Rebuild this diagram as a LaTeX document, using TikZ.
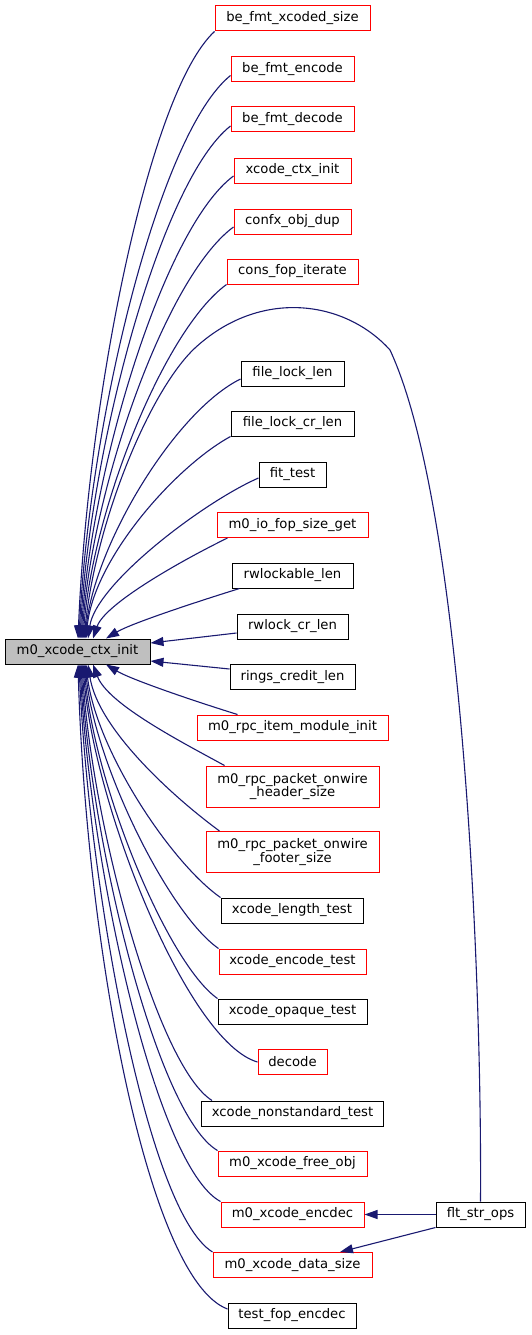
\documentclass[tikz,border=0pt]{standalone}
\usepackage{fontspec}
\setmainfont{DejaVu Sans}
\usetikzlibrary{arrows.meta,calc}
\definecolor{edgeblue}{HTML}{191970}
\definecolor{mainfill}{HTML}{BFBFBF}
\begin{document}
\begin{tikzpicture}[x=1pt,y=-1pt,
  box/.style={draw=black,line width=1pt,fill=white,minimum height=25pt,inner xsep=3pt,inner ysep=2pt,font=\fontsize{13.2}{13.3}\selectfont,align=center},
  redbox/.style={box,draw=red},
  tall/.style={minimum height=41pt},
  e/.style={draw=edgeblue,line width=1.1pt,-{Triangle[length=13pt,width=9pt]}}
]
\useasboundingbox (0,0) rectangle (531,1335);
% main node
\node[box,fill=mainfill,minimum width=145pt] (main) at (77.5,651.5) {m0\_xcode\_ctx\_init};
% callers
\node[redbox,minimum width=155pt] (fmtx) at (292.5,18.5) {be\_fmt\_xcoded\_size};
\node[redbox,minimum width=123pt] (fmte) at (292.5,69.5) {be\_fmt\_encode};
\node[redbox,minimum width=123pt] (fmtd) at (292.5,119.5) {be\_fmt\_decode};
\node[redbox,minimum width=117pt] (xci) at (292.5,170.5) {xcode\_ctx\_init};
\node[redbox,minimum width=117pt] (confx) at (292.5,221.5) {confx\_obj\_dup};
\node[redbox,minimum width=131pt] (cons) at (292.5,271.5) {cons\_fop\_iterate};
\node[box,minimum width=103pt] (flock) at (292.5,373.5) {file\_lock\_len};
\node[box,minimum width=123pt] (flockcr) at (292.5,423.5) {file\_lock\_cr\_len};
\node[box,minimum width=67pt] (fit) at (292.5,474.5) {fit\_test};
\node[redbox,minimum width=151pt] (iofop) at (292.5,525) {m0\_io\_fop\_size\_get};
\node[box,minimum width=121pt] (rwl) at (292.5,575.5) {rwlockable\_len};
\node[box,minimum width=111pt] (rwcr) at (292.5,626.5) {rwlock\_cr\_len};
\node[box,minimum width=125pt] (rings) at (292.5,677) {rings\_credit\_len};
\node[redbox,minimum width=191pt] (item) at (292.5,727.5) {m0\_rpc\_item\_module\_init};
\node[redbox,tall,minimum width=173pt] (header) at (292.5,786.5) {m0\_rpc\_packet\_onwire\\\_header\_size};
\node[redbox,tall,minimum width=173pt] (footer) at (292.5,852) {m0\_rpc\_packet\_onwire\\\_footer\_size};
\node[box,minimum width=142pt] (length) at (292,910.5) {xcode\_length\_test};
\node[redbox,minimum width=147pt] (enct) at (292.5,961.5) {xcode\_encode\_test};
\node[box,minimum width=149pt] (opq) at (292.5,1011.5) {xcode\_opaque\_test};
\node[redbox,minimum width=69pt] (dec) at (292.5,1062) {decode};
\node[box,minimum width=182pt] (nonstd) at (292.5,1113.5) {xcode\_nonstandard\_test};
\node[redbox,minimum width=149pt] (free) at (292.5,1163.5) {m0\_xcode\_free\_obj};
\node[redbox,minimum width=143pt] (encdec) at (292.5,1214.5) {m0\_xcode\_encdec};
\node[redbox,minimum width=159pt] (dsize) at (292.5,1265) {m0\_xcode\_data\_size};
\node[box,minimum width=128pt] (tfop) at (292,1315.5) {test\_fop\_encdec};
\node[box,minimum width=89pt] (flt) at (480.5,1214.5) {flt\_str\_ops};
% upper edges
\draw[e] (fmtx.south west) .. controls +(-66,61) and +(10,-240) .. ($(main.north)+(0.5,0)$);
\draw[e] ($(fmte.west)+(0,6)$) .. controls +(-72,58) and +(10,-215) .. ($(main.north)+(1.5,0)$);
\draw[e] ($(fmtd.west)+(0,6.5)$) .. controls +(-70,55) and +(10,-190) .. ($(main.north)+(2.5,0)$);
\draw[e] ($(xci.west)+(0,5.5)$) .. controls +(-70,52) and +(10,-168) .. ($(main.north)+(3.5,0)$);
\draw[e] ($(confx.west)+(0,5.5)$) .. controls +(-68,50) and +(10,-150) .. ($(main.north)+(4.5,0)$);
\draw[e] (cons.south west) .. controls +(-62,45) and +(10,-130) .. ($(main.north)+(5.5,0)$);
\draw[e] ($(flock.west)+(0,5.5)$) .. controls +(-65,32) and +(10,-95) .. ($(main.north)+(7.5,0)$);
\draw[e] (flockcr.south west) .. controls +(-55,30) and +(8,-80) .. ($(main.north)+(8.5,0)$);
\draw[e] ($(fit.west)+(0,3.5)$) .. controls +(-55,24) and +(8,-55) .. ($(main.north)+(10.5,0)$);
\draw[e] ($(iofop.south west)+(11,0)$) .. controls +(-45,22) and +(12,-35) .. ($(main.north)+(15.5,0)$);
\draw[e] ($(rwl.south west)+(8,0)$) .. controls +(-45,14) and +(25,-15) .. ($(main.north)+(28.5,0)$);
% side edges
\draw[e] ($(rwcr.west)+(0,6.5)$) -- ($(main.east)+(0,-8.5)$);
\draw[e] ($(rings.west)+(0,-8)$) -- ($(main.east)+(0,9.5)$);
% lower edges
\draw[e] ($(item.north west)+(41,0)$) .. controls +(-45,-14) and +(25,15) .. ($(main.south)+(28.5,0)$);
\draw[e] ($(header.north west)+(19,0)$) .. controls +(-40,-22) and +(15,40) .. ($(main.south)+(15.5,0)$);
\draw[e] ($(footer.north west)+(14,0)$) .. controls +(-45,-33) and +(10,65) .. ($(main.south)+(10.5,0)$);
\draw[e] (length.north west) .. controls +(-50,-35) and +(10,85) .. ($(main.south)+(8.5,0)$);
\draw[e] (enct.north west) .. controls +(-50,-35) and +(10,100) .. ($(main.south)+(7.5,0)$);
\draw[e] (opq.north west) .. controls +(-50,-35) and +(10,120) .. ($(main.south)+(6.5,0)$);
\draw[e] (dec.west) .. controls +(-70,-20) and +(10,140) .. ($(main.south)+(5.5,0)$);
\draw[e] ($(nonstd.north west)+(11,0)$) .. controls +(-55,-35) and +(10,160) .. ($(main.south)+(4.5,0)$);
\draw[e] (free.north west) .. controls +(-60,-35) and +(10,180) .. ($(main.south)+(3.5,0)$);
\draw[e] (encdec.north west) .. controls +(-65,-35) and +(10,200) .. ($(main.south)+(2.5,0)$);
\draw[e] (dsize.north west) .. controls +(-65,-40) and +(10,225) .. ($(main.south)+(1.5,0)$);
\draw[e] ($(tfop.west)+(0,-6.5)$) .. controls +(-80,-30) and +(8,280) .. ($(main.south)+(0.5,0)$);
% flt_str_ops edges
\draw[e] (flt.north) .. controls (482,950) and (460,500) .. (390,350)
  .. controls (345,300) and (260,288) .. (195,348)
  .. controls (150,390) and (96,520) .. ($(main.north)+(6.5,0)$);
\draw[e] (flt.west) -- (encdec.east);
\draw[e] (flt.south west) -- ($(dsize.north)+(47.5,0)$);
\end{tikzpicture}
\end{document}
